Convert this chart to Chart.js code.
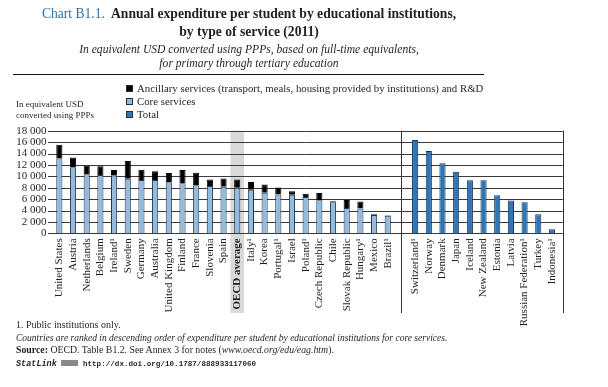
<!DOCTYPE html>
<html>
<head>
<meta charset="utf-8">
<script src="https://cdn.jsdelivr.net/npm/chart.js@4.4.1/dist/chart.umd.min.js"></script>
<style>
  body { margin: 0; background: #fff; }
  #wrap { position: relative; width: 608px; height: 387px; overflow: hidden; font-family: "Liberation Serif", serif; color: #231f20; }
  #chartCanvas { position: absolute; left: 0; top: 0; }
  .abs { position: absolute; white-space: nowrap; }
  .title { left: 0; width: 498px; text-align: center; font-size: 13.6px; font-weight: bold; line-height: 18px; }
  .title .num { color: #2f6fa8; font-weight: normal; }
  .sub { left: 0; width: 498px; text-align: center; font-size: 11.6px; font-style: italic; line-height: 14px; }
  .rule { left: 13px; top: 74px; width: 471px; height: 0; border-top: 1px solid #111; }
  .leg { left: 126px; font-size: 10.8px; line-height: 13px; }
  .leg i { display: inline-block; width: 7px; height: 7px; margin-right: 4px; vertical-align: 0; box-sizing: border-box; border: 1px solid #1e2f42; }
  .ytitle { left: 16px; top: 99px; font-size: 9px; line-height: 11px; }
  .note { left: 16px; font-size: 10px; line-height: 12px; }
  .mono { font-family: "Liberation Mono", monospace; font-weight: bold; }
</style>
</head>
<body>
<div id="wrap">
  <canvas id="chartCanvas" width="608" height="387"></canvas>

  <div class="abs title" style="top:5px"><span class="num">Chart B1.1.</span>&nbsp; Annual expenditure per student by educational institutions,</div>
  <div class="abs title" style="top:23px">by type of service (2011)</div>
  <div class="abs sub" style="top:43px">In equivalent USD converted using PPPs, based on full-time equivalents,</div>
  <div class="abs sub" style="top:57px">for primary through tertiary education</div>
  <div class="abs rule"></div>

  <div class="abs leg" style="top:82px"><i style="background:#000"></i>Ancillary services (transport, meals, housing provided by institutions) and R&amp;D</div>
  <div class="abs leg" style="top:95px"><i style="background:#94bade"></i>Core services</div>
  <div class="abs leg" style="top:108px"><i style="background:#2f76b6"></i>Total</div>

  <div class="abs ytitle">In equivalent USD<br>converted using PPPs</div>

  <div class="abs note" style="top:319px">1. Public institutions only.</div>
  <div class="abs note" style="top:332px;font-style:italic;font-size:9.5px">Countries are ranked in descending order of expenditure per student by educational institutions for core services.</div>
  <div class="abs note" style="top:344px;font-size:9.8px"><b>Source:</b> OECD. Table B1.2. See Annex 3 for notes (<i>www.oecd.org/edu/eag.htm</i>).</div>
  <div class="abs note mono" style="top:358px;font-size:7.6px"><span style="font-size:8.5px;font-style:italic">StatLink</span> <span style="display:inline-block;width:17px;height:6px;background:#8a8a8a;vertical-align:0"></span> http://dx.doi.org/10.1787/888933117060</div>
</div>

<script>
// ===============================
// data
// ===============================
const leftCountries = [
  "United States", "Austria", "Netherlands", "Belgium", "Ireland¹", "Sweden",
  "Germany", "Australia", "United Kingdom", "Finland", "France", "Slovenia",
  "Spain", "OECD average", "Italy¹", "Korea", "Portugal¹", "Israel", "Poland¹",
  "Czech Republic", "Chile", "Slovak Republic", "Hungary¹", "Mexico", "Brazil¹"
];
const coreServices = [
  13150, 11580, 10350, 10250, 10180, 9590,
  9330, 9330, 8950, 8780, 8420, 8300,
  8180, 8010, 7660, 7130, 6790, 6760, 6380,
  5800, 5440, 4450, 4340, 3220, 3080
];
const ancillaryServices = [
  2380, 1720, 1520, 1500, 930, 3080,
  1830, 1550, 1620, 2320, 2200, 1160,
  1450, 1450, 1330, 1410, 1260, 600, 580,
  1280, 170, 1400, 1220, 120, 100
];
const rightCountries = [
  "Switzerland¹", "Norway", "Denmark", "Japan", "Iceland", "New Zealand",
  "Estonia", "Latvia", "Russian Federation¹", "Turkey", "Indonesia¹"
];
const totalOnly = [16350, 14440, 12280, 10780, 9320, 9320, 6680, 5750, 5440, 3330, 700];

const yTicks = [0, 2000, 4000, 6000, 8000, 10000, 12000, 14000, 16000, 18000];

// ===============================
// build the category list (one empty slot separates the two groups)
// ===============================
const labels = [...leftCountries, "", ...rightCountries];
const gap = leftCountries.length;
const pad = n => Array(n).fill(null);

const coreData = [...coreServices, ...pad(1 + rightCountries.length)];
const ancData = [...ancillaryServices, ...pad(1 + rightCountries.length)];
const totalData = [...pad(leftCountries.length + 1), ...totalOnly];

function fmt(v) {
  return String(v).replace(/\B(?=(\d{3})+(?!\d))/g, " ");
}

// ===============================
// frame, grid and OECD band
// ===============================
const framePlugin = {
  id: "frame",
  beforeDraw(chart) {
    const { ctx, chartArea, scales } = chart;
    const x = scales.x, y = scales.y;
    const slot = x.getPixelForValue(1) - x.getPixelForValue(0);
    const bottom = 313;
    const left = chartArea.left - 4.5;
    const right = chartArea.right + 4;

    ctx.save();
    // OECD band
    const oi = labels.indexOf("OECD average");
    const ox = x.getPixelForValue(oi);
    ctx.fillStyle = "#d9d9d9";
    ctx.fillRect(ox - slot / 2, chartArea.top, slot, bottom - chartArea.top);

    // horizontal grid
    ctx.strokeStyle = "#3a3a3a";
    ctx.lineWidth = 1;
    yTicks.forEach(t => {
      const py = Math.round(y.getPixelForValue(t)) + 0.5;
      ctx.beginPath();
      ctx.moveTo(left, py);
      ctx.lineTo(right, py);
      ctx.stroke();
    });

    // divider and right frame of the second group
    const dx = Math.round(x.getPixelForValue(gap)) + 0.5;
    const rx = Math.round(right) + 0.5;
    ctx.strokeStyle = "#333";
    ctx.beginPath();
    ctx.moveTo(dx, chartArea.top);
    ctx.lineTo(dx, bottom);
    ctx.moveTo(rx, chartArea.top);
    ctx.lineTo(rx, bottom);
    ctx.stroke();
    ctx.restore();
  }
};

const ctx = document.getElementById("chartCanvas").getContext("2d");

new Chart(ctx, {
  type: "bar",
  data: {
    labels,
    datasets: [
      {
        label: "Core services",
        data: coreData,
        backgroundColor: "#94bade",
        borderColor: "#22384f",
        borderWidth: 1
      },
      {
        label: "Ancillary services (transport, meals, housing provided by institutions) and R&D",
        data: ancData,
        backgroundColor: "#000000",
        borderColor: "#000000",
        borderWidth: 1
      },
      {
        label: "Total",
        data: totalData,
        backgroundColor: "#2f76b6",
        borderColor: "#1c3550",
        borderWidth: 1
      }
    ]
  },
  options: {
    responsive: false,
    animation: false,
    layout: { padding: { left: 0, right: 49.2, top: 130.7, bottom: 0 } },
    plugins: {
      legend: { display: false },
      tooltip: { enabled: false }
    },
    datasets: {
      bar: { barPercentage: 0.45, categoryPercentage: 1 }
    },
    scales: {
      x: {
        stacked: true,
        grid: { display: false, drawTicks: false },
        border: { display: false },
        ticks: {
          autoSkip: false,
          minRotation: 90,
          maxRotation: 90,
          padding: 5,
          color: "#231f20",
          font: c => ({
            family: "'Liberation Serif', serif",
            size: 11,
            weight: c.tick && c.tick.label === "OECD average" ? "bold" : "normal"
          })
        },
        afterFit(scale) { scale.height = 387 - 233.3; }
      },
      y: {
        stacked: true,
        min: 0,
        max: 18000,
        grid: { display: false, drawTicks: false },
        border: { display: false },
        ticks: {
          stepSize: 2000,
          autoSkip: false,
          padding: 6,
          color: "#231f20",
          font: { family: "'Liberation Serif', serif", size: 11 },
          callback: v => fmt(v)
        },
        afterFit(scale) { scale.width = 52.5; }
      }
    }
  },
  plugins: [framePlugin]
});
</script>
</body>
</html>
